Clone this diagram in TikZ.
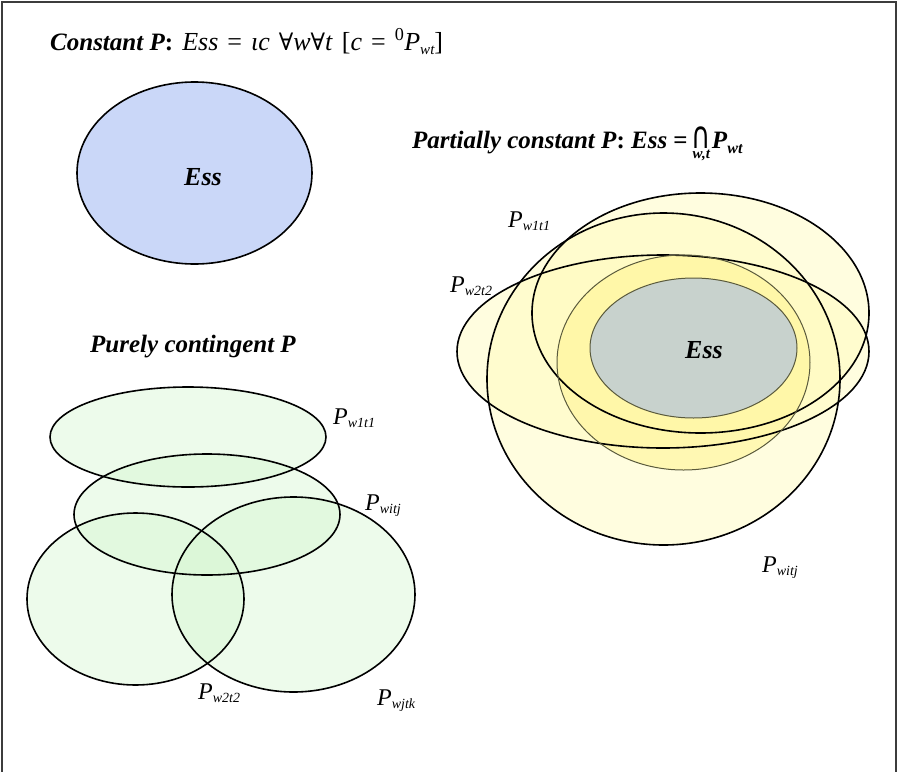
\documentclass[tikz,border=0pt]{standalone}
\usepackage{fontspec}
\setmainfont{Liberation Serif}
\newfontfamily\symfont{DejaVu Serif}
\newfontfamily\dsans{DejaVu Sans}
\definecolor{framecol}{RGB}{60,60,60}
\definecolor{bluefill}{RGB}{202,215,248}
\definecolor{greenfill}{RGB}{210,245,205}
\definecolor{yellowfill}{RGB}{255,250,185}
\definecolor{yellowmid}{RGB}{255,245,150}
\definecolor{essfill}{RGB}{200,210,205}
\definecolor{olive}{RGB}{90,90,60}
\tikzset{
  outline/.style={draw=black, line width=1.6pt},
  thinline/.style={draw=olive, line width=1.0pt},
  title/.style={anchor=base west, inner sep=0pt, font=\fontsize{25}{28}\selectfont},
  plabel/.style={anchor=base west, inner sep=0pt, font=\fontsize{24}{28}\selectfont\itshape},
  esslabel/.style={inner sep=0pt, font=\fontsize{26}{30}\selectfont\bfseries\itshape},
}
\newcommand{\Pl}[1]{P\raisebox{-0.35ex}{\fontsize{14}{16}\selectfont #1}}
\newcommand{\FA}{{\symfont\fontsize{24}{26}\selectfont ∀}}
\newcommand{\gap}{\hspace{9pt}}
\begin{document}
\begin{tikzpicture}[x=1pt,y=-1pt]
\useasboundingbox (0,0) rectangle (898,772);
% frame
\draw[framecol, line width=2pt] (2,775) -- (2,2) -- (896,2) -- (896,775);

% titles
\node[title] (t1) at (50,50) {\textbf{\textit{Constant P}:}\gap{\fontsize{26}{28}\selectfont\textit{Ess}\gap=\gap\textit{ιc}\gap\FA\textit{w}\FA\textit{t}\gap[\textit{c}\gap=\gap\textsuperscript{0}\textit{P}\raisebox{-0.4ex}{\fontsize{15}{17}\selectfont\itshape wt}]}};
\node[title] (t2) at (412,148) {\textbf{\textit{Partially constant P}: \textit{Ess} =}\hspace{4pt}$\mathop{\hbox{\scalebox{1.05}[1.5]{\dsans\fontsize{25}{25}\selectfont ∩}}}\limits_{\hbox{\fontsize{15}{15}\selectfont\bfseries\itshape w,t}}$\hspace{1pt}\textbf{\textit{P}}\raisebox{-0.5ex}{\fontsize{16}{18}\selectfont\bfseries\itshape wt}};
\node[title] (t3) at (90,352) {\textbf{\textit{Purely contingent P}}};

% constant P
\draw[outline, fill=bluefill] (194.5,173) ellipse [x radius=117.5, y radius=91];
\node[esslabel] (ess1) at (203,177) {Ess};

% purely contingent: fills then outlines
\begin{scope}[fill=greenfill, fill opacity=0.4]
\fill (188,437) ellipse [x radius=138, y radius=50];
\fill (207,514.5) ellipse [x radius=133, y radius=60.5];
\fill (135.5,599) ellipse [x radius=108.5, y radius=86];
\fill (293.5,594.5) ellipse [x radius=121.5, y radius=97.5];
\end{scope}
\draw[outline] (188,437) ellipse [x radius=138, y radius=50];
\draw[outline] (207,514.5) ellipse [x radius=133, y radius=60.5];
\draw[outline] (135.5,599) ellipse [x radius=108.5, y radius=86];
\draw[outline] (293.5,594.5) ellipse [x radius=121.5, y radius=97.5];
\node[plabel] (l1) at (333,424) {\Pl{w1\textit{t}1}};
\node[plabel] (l2) at (365,510) {\Pl{wi\textit{tj}}};
\node[plabel] (l3) at (198,699) {\Pl{w2\textit{t}2}};
\node[plabel] (l4) at (377,705) {\Pl{wj\textit{t}k}};

% partially constant
\begin{scope}[fill=yellowfill, fill opacity=0.45]
\fill (663.5,379) ellipse [x radius=176.5, y radius=166];
\fill (700.5,313) ellipse [x radius=168.5, y radius=120];
\fill (663,351.5) ellipse [x radius=206, y radius=96.5];
\end{scope}
\fill[yellowmid, fill opacity=0.6] (683.5,362.5) ellipse [x radius=126.5, y radius=107.5];
\draw[outline] (663.5,379) ellipse [x radius=176.5, y radius=166];
\draw[outline] (700.5,313) ellipse [x radius=168.5, y radius=120];
\draw[outline] (663,351.5) ellipse [x radius=206, y radius=96.5];
\draw[thinline] (683.5,362.5) ellipse [x radius=126.5, y radius=107.5];
\draw[thinline, fill=essfill] (693.5,348) ellipse [x radius=103.5, y radius=70];
\node[esslabel] (ess2) at (704,350) {Ess};
\node[plabel] (r1) at (508,227) {\Pl{w1\textit{t}1}};
\node[plabel] (r2) at (450,292) {\Pl{w2\textit{t}2}};
\node[plabel] (r3) at (762,572) {\Pl{wi\textit{tj}}};
\end{tikzpicture}
\end{document}
